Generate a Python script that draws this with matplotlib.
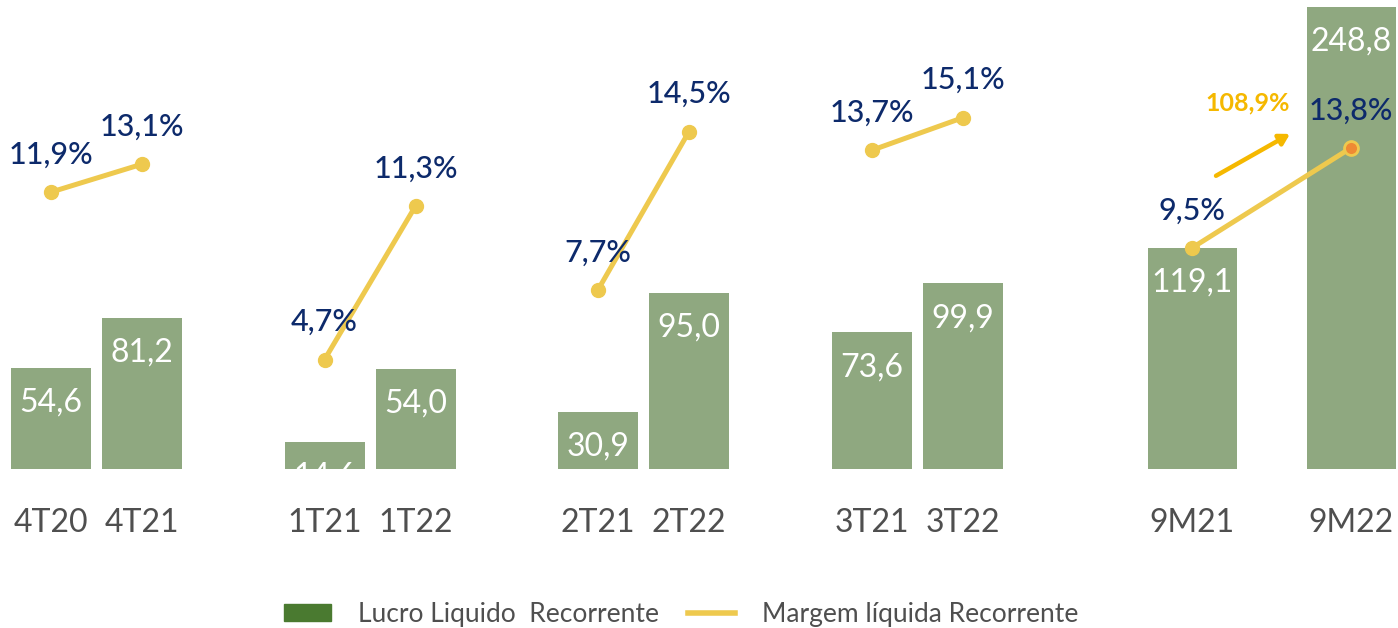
import matplotlib
matplotlib.use("Agg")
import matplotlib.pyplot as plt
from matplotlib.patches import Patch
from matplotlib.lines import Line2D

# ---- data ----
categories = ["4T20", "4T21", "1T21", "1T22", "2T21", "2T22", "3T21", "3T22", "9M21", "9M22"]
lucro = [54.6, 81.2, 14.6, 54.0, 30.9, 95.0, 73.6, 99.9, 119.1, 248.8]
margem = [11.9, 13.1, 4.7, 11.3, 7.7, 14.5, 13.7, 15.1, 9.5, 13.8]
lucro_labels = ["54,6", "81,2", "14,6", "54,0", "30,9", "95,0", "73,6", "99,9", "119,1", "248,8"]
margem_labels = ["11,9%", "13,1%", "4,7%", "11,3%", "7,7%", "14,5%", "13,7%", "15,1%", "9,5%", "13,8%"]
growth_label = "108,9%"
legend_labels = ["Lucro Liquido  Recorrente", "Margem líquida Recorrente"]

# ---- layout ----
W, H = 1398, 628
fig = plt.figure(figsize=(W / 100, H / 100), dpi=100)
plt.rcParams['font.family'] = ['Lato', 'DejaVu Sans']

base_px = 469
ax = fig.add_axes([0, (H - base_px) / H, 1, base_px / H])
ax2 = ax.twinx()

group_centers = [96.5, 370.0, 643.5, 917.5, 1271.5]
half_gaps = [45.5, 45.5, 45.5, 45.5, 79.5]
widths = [80, 80, 80, 80, 89]
xs, ws = [], []
for c, g, w in zip(group_centers, half_gaps, widths):
    xs += [c - g, c + g]
    ws += [w, w]

bar_color = "#8FA880"
line_color = "#EEC94E"
navy = "#0D2A6B"
gray = "#4F4F4F"

px_per_unit = 1.857
px_per_pct = 23.27
ax.set_xlim(0, W)
ax.set_ylim(0, base_px / px_per_unit)
ax2.set_ylim(0, base_px / px_per_pct)

ax.bar(xs, lucro, width=ws, color=bar_color, zorder=1)
for x, v, lab in zip(xs, lucro, lucro_labels):
    ax.annotate(lab, (x, v), xytext=(0, -25), textcoords="offset points",
                ha="center", va="center", color="white", fontsize=23,
                annotation_clip=False, zorder=2)

for i in range(0, len(xs), 2):
    ax2.plot(xs[i:i + 2], margem[i:i + 2], color=line_color, lw=3.6,
             marker="o", ms=10, mfc=line_color, mec=line_color,
             solid_capstyle="round", zorder=3)
# last point highlighted
ax2.plot([xs[-1]], [margem[-1]], marker="o", ms=10, mfc="#EE8A34",
         mec=line_color, mew=2, ls="none", zorder=4)

for x, v, lab in zip(xs, margem, margem_labels):
    ax2.annotate(lab, (x, v), xytext=(0, 27), textcoords="offset points",
                 ha="center", va="center", color=navy, fontsize=22,
                 fontweight="medium", zorder=5)

# growth arrow annotation (9M21 -> 9M22)
ax2.annotate("", xy=(1290, 14.4), xytext=(1216, 12.6),
             arrowprops=dict(arrowstyle="-|>,head_length=0.6,head_width=0.35",
                             color="#F5B800", lw=3.2, shrinkA=0, shrinkB=0))
ax2.text(1248, 15.75, growth_label, ha="center", va="center", color="#F5B800",
         fontsize=18, fontweight="bold")

ax.set_xticks(xs)
ax.set_xticklabels(categories, fontsize=23, color=gray)
ax.tick_params(axis="x", length=0, pad=28)
ax.set_yticks([])
ax2.set_yticks([])
for a in (ax, ax2):
    for s in a.spines.values():
        s.set_visible(False)

handles = [Patch(color="#4A7A30"), Line2D([0], [0], color=line_color, lw=4)]
fig.legend(handles, legend_labels, loc="center", bbox_to_anchor=(0.487, 0.022),
           ncol=2, frameon=False, fontsize=19, labelcolor=gray,
           handlelength=1.8, handleheight=0.65, handletextpad=1.0,
           columnspacing=1.1)

fig.savefig("out.png", dpi=100)
